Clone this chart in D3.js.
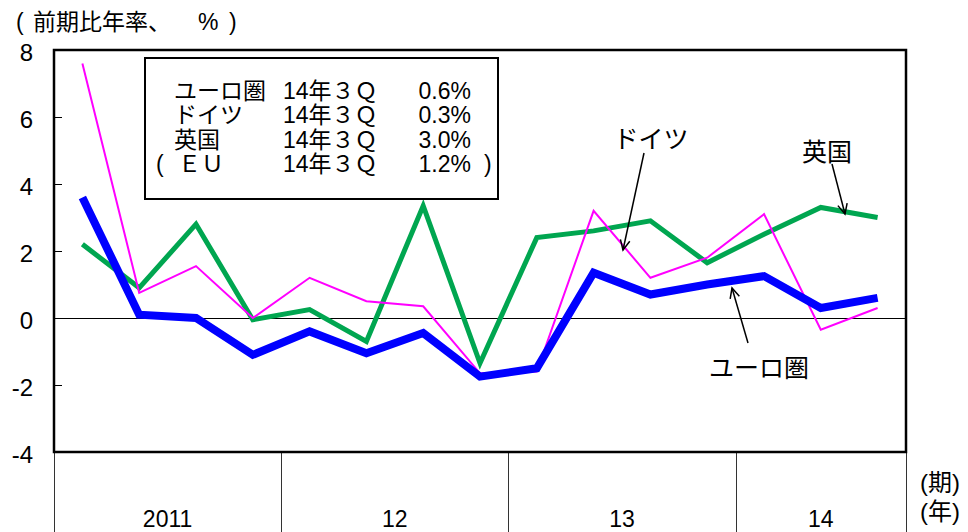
<!DOCTYPE html>
<html>
<head>
<meta charset="utf-8">
<script src="https://cdn.jsdelivr.net/npm/d3@7/dist/d3.min.js"></script>
<style>
  html, body { margin: 0; padding: 0; background: #fff; }
  svg { display: block; }
  text { font-family: "Liberation Sans", "Noto Sans CJK JP", sans-serif; fill: #000; }
</style>
</head>
<body>
<svg id="chart" width="968" height="532"></svg>
<script>
// ---- data ----
const quarters = ["2011Q1","2011Q2","2011Q3","2011Q4","2012Q1","2012Q2","2012Q3","2012Q4",
                  "2013Q1","2013Q2","2013Q3","2013Q4","2014Q1","2014Q2","2014Q3"];
const yearLabels = ["2011", "12", "13", "14"];
const yearQuarterCounts = [4, 4, 4, 3];
const euroArea = [3.6, 0.1, 0.0, -1.1, -0.4, -1.05, -0.45, -1.75, -1.5, 1.35, 0.7, 1.0, 1.25, 0.3, 0.6];
const germany  = [7.6, 0.75, 1.55, 0.0, 1.2, 0.5, 0.35, -1.65, -1.6, 3.2, 1.2, 1.8, 3.1, -0.35, 0.3];
const uk       = [2.2, 0.9, 2.8, -0.05, 0.25, -0.7, 3.35, -1.35, 2.4, 2.6, 2.9, 1.65, 2.5, 3.3, 3.0];
const yTicks = [-4, -2, 0, 2, 4, 6, 8];
const legendRows = [
  { name: "ユーロ圏", period: "14年３Ｑ", value: "0.6%" },
  { name: "ドイツ",   period: "14年３Ｑ", value: "0.3%" },
  { name: "英国",     period: "14年３Ｑ", value: "3.0%" },
  { name: "ＥＵ",     period: "14年３Ｑ", value: "1.2%", paren: true }
];

// ---- layout ----
const svg = d3.select("#chart");
const L = 54, R = 906, T = 50, B = 452;

const x = d3.scaleBand().domain(quarters).range([L, R]).paddingInner(0).paddingOuter(0);
const xc = q => x(q) + x.bandwidth() / 2;
const y = d3.scaleLinear().domain([-4, 8]).range([B, T]);
const crisp = v => Math.round(v) + 0.5;

// title
const title = svg.append("text").attr("y", 30).style("font-size", "23px");
title.append("tspan").attr("x", 16).text("(");
title.append("tspan").attr("x", 33).text("前期比年率、");
title.append("tspan").attr("x", 198).text("%");
title.append("tspan").attr("x", 229).text(")");

// y tick labels
svg.append("g").selectAll("text").data(yTicks).join("text")
  .attr("x", 33).attr("y", d => y(d) + 2)
  .attr("text-anchor", "end").attr("dominant-baseline", "central")
  .style("font-size", "24px")
  .text(d => d);

// y ticks (inside)
svg.append("g").selectAll("line").data(yTicks).join("line")
  .attr("x1", L).attr("x2", L + 8)
  .attr("y1", d => crisp(y(d))).attr("y2", d => crisp(y(d)))
  .attr("stroke", "#000").attr("stroke-width", 1);

// zero line
svg.append("line").attr("x1", L).attr("x2", R).attr("y1", crisp(y(0))).attr("y2", crisp(y(0)))
  .attr("stroke", "#000").attr("stroke-width", 1);

// category axis: year separators & labels
let acc = 0;
const yearBounds = yearQuarterCounts.map((c, i) => {
  const start = acc; acc += c;
  return { label: yearLabels[i], x0: x(quarters[start]), x1: x(quarters[acc - 1]) + x.bandwidth() };
});
const sepXs = [yearBounds[0].x0].concat(yearBounds.map(d => d.x1));
svg.append("g").selectAll("line").data(sepXs).join("line")
  .attr("x1", d => crisp(d)).attr("x2", d => crisp(d)).attr("y1", B).attr("y2", 532)
  .attr("stroke", "#333").attr("stroke-width", 1);
svg.append("g").selectAll("text").data(yearBounds).join("text")
  .attr("x", d => (d.x0 + d.x1) / 2).attr("y", 527)
  .attr("text-anchor", "middle").style("font-size", "23px")
  .text(d => d.label);
svg.append("text").attr("x", 920).attr("y", 491).style("font-size", "24px").text("(期)");
svg.append("text").attr("x", 920).attr("y", 520).style("font-size", "24px").text("(年)");

// lines
const lineGen = vals => d3.line().x((d, i) => xc(quarters[i])).y(d => y(d))(vals);
const series = [
  { vals: uk, color: "#00a650", w: 5 },
  { vals: germany, color: "#ff00ff", w: 2 },
  { vals: euroArea, color: "#0000ff", w: 8 }
];
svg.append("g").selectAll("path").data(series).join("path")
  .attr("d", d => lineGen(d.vals))
  .attr("fill", "none").attr("stroke", d => d.color).attr("stroke-width", d => d.w)
  .attr("stroke-linejoin", "miter").attr("stroke-linecap", "butt");

// plot border
svg.append("rect").attr("x", L).attr("y", T).attr("width", R - L).attr("height", B - T)
  .attr("fill", "none").attr("stroke", "#000").attr("stroke-width", 2.5);

// legend box
const lg = svg.append("g");
lg.append("rect").attr("x", 145).attr("y", 58).attr("width", 353).attr("height", 141)
  .attr("fill", "#fff").attr("stroke", "#000").attr("stroke-width", 2);
legendRows.forEach((r, i) => {
  const by = 99 + i * 24.3;
  const t1 = lg.append("text").attr("y", by).style("font-size", "23px");
  if (r.paren) {
    t1.append("tspan").attr("x", 156).text("(");
    t1.append("tspan").attr("x", 178).text(r.name);
  } else {
    t1.append("tspan").attr("x", 174).text(r.name);
  }
  lg.append("text").attr("x", 283).attr("y", by).style("font-size", "23px").text(r.period);
  lg.append("text").attr("x", 471).attr("y", by).attr("text-anchor", "end")
    .style("font-size", "23px").text(r.value);
  if (r.paren) lg.append("text").attr("x", 484).attr("y", by).style("font-size", "23px").text(")");
});

// annotations
const annotations = [
  { label: "ドイツ", tx: 651, ty: 148, x1: 644, y1: 153, x2: 623, y2: 250 },
  { label: "英国",   tx: 827, ty: 161, x1: 832, y1: 164, x2: 845, y2: 214 },
  { label: "ユーロ圏", tx: 759, ty: 377, x1: 748, y1: 343, x2: 732, y2: 288 }
];
const ag = svg.append("g");
annotations.forEach(a => {
  ag.append("text").attr("x", a.tx).attr("y", a.ty).attr("text-anchor", "middle")
    .style("font-size", "25px").text(a.label);
  ag.append("line").attr("x1", a.x1).attr("y1", a.y1).attr("x2", a.x2).attr("y2", a.y2)
    .attr("stroke", "#000").attr("stroke-width", 1.5);
  const ang = Math.atan2(a.y2 - a.y1, a.x2 - a.x1);
  const hl = 11, ha = 0.45;
  const p1 = [a.x2 - hl * Math.cos(ang - ha), a.y2 - hl * Math.sin(ang - ha)];
  const p2 = [a.x2 - hl * Math.cos(ang + ha), a.y2 - hl * Math.sin(ang + ha)];
  ag.append("path").attr("d", `M${p1[0]},${p1[1]}L${a.x2},${a.y2}L${p2[0]},${p2[1]}`)
    .attr("fill", "none").attr("stroke", "#000").attr("stroke-width", 1.5);
});
</script>
</body>
</html>
